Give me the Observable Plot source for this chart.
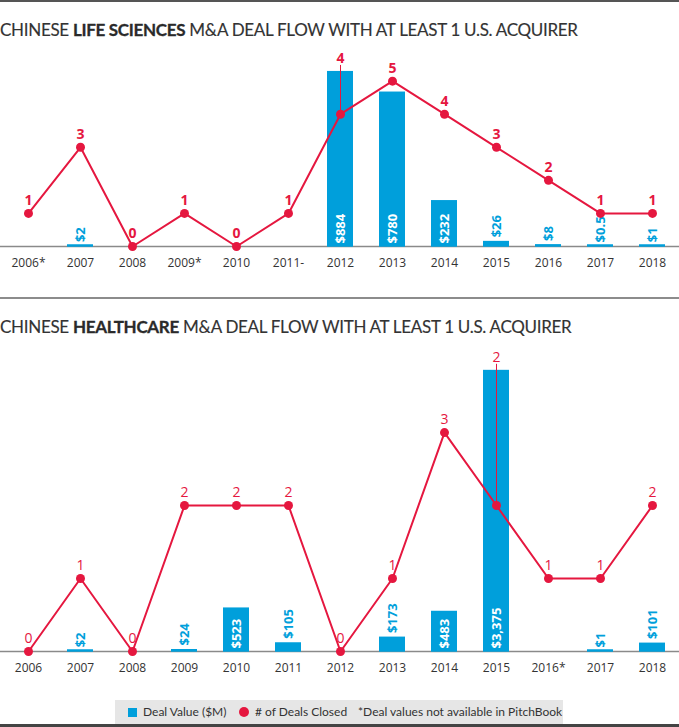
<!DOCTYPE html>
<html><head><meta charset="utf-8">
<script src="https://cdn.jsdelivr.net/npm/d3@7"></script>
<script src="https://cdn.jsdelivr.net/npm/@observablehq/plot@0.6"></script>
<style>
body{margin:0;background:#fff;}
#page{position:relative;width:679px;height:727px;overflow:hidden;font-family:Lato,"Open Sans",sans-serif;color:#333;}
.hr{position:absolute;left:0;width:679px;}
.title{position:absolute;left:0;font-size:17px;letter-spacing:-0.3px;white-space:nowrap;line-height:20px;color:#333;font-weight:400;-webkit-text-stroke:0.15px #333;}
.title b{font-weight:700;color:#2a2a2a;-webkit-text-stroke:0.3px #2a2a2a;}
.chart{position:absolute;left:0;}
#legend{position:absolute;left:115px;top:700px;width:448px;height:24px;background:#e6e6e6;font-size:12px;color:#333;}
#legend span{position:absolute;}
#legend .lt{top:4px;line-height:16px;white-space:nowrap;}
</style></head>
<body>
<div id="page">
  <div class="hr" style="top:0;height:2px;background:#555"></div>
  <div class="title" style="top:20px">CHINESE <b>LIFE SCIENCES</b> M&amp;A DEAL FLOW WITH AT LEAST 1 U.S. ACQUIRER</div>
  <div class="chart" id="c1" style="top:45px"></div>
  <div class="hr" style="top:297px;height:2px;background:#8c8c8c"></div>
  <div class="title" style="top:317px">CHINESE <b>HEALTHCARE</b> M&amp;A DEAL FLOW WITH AT LEAST 1 U.S. ACQUIRER</div>
  <div class="chart" id="c2" style="top:340px"></div>
  <div id="legend"></div>
  <div class="hr" style="top:724px;height:3px;background:#444"></div>
</div>
<script>
// ---- Life sciences chart data ----
const lsYears  = ["2006*","2007","2008","2009*","2010","2011-","2012","2013","2014","2015","2016","2017","2018"];
const lsCounts = [1, 3, 0, 1, 0, 1, 4, 5, 4, 3, 2, 1, 1];
const lsValues = [null, 2, null, null, null, null, 884, 780, 232, 26, 8, 0.5, 1];

// ---- Healthcare chart data ----
const hcYears  = ["2006","2007","2008","2009","2010","2011","2012","2013","2014","2015","2016*","2017","2018"];
const hcCounts = [0, 1, 0, 2, 2, 2, 0, 1, 3, 2, 1, 1, 2];
const hcValues = [null, 2, null, 24, 523, 105, null, 173, 483, 3375, null, 1, 101];

// ---- Legend ----
const legendLabels = ["Deal Value ($M)", "# of Deals Closed", "*Deal values not available in PitchBook"];

const BLUE = "#009fdb", RED = "#e5173f";
const fmt = d3.format("$,");

function drawChart({years, counts, values, height, maxValue, countUnit, boldCounts}) {
  const marginBottom = 39;
  const inner = height - marginBottom;
  const pxPer = inner / maxValue;
  const data = years.map((year, i) => ({year, count: counts[i], value: values[i]}));
  const bars = data.filter(d => d.value != null);
  const inside = d => d.value * pxPer >= 38;
  const covered = d => d.value != null && d.value > d.count * countUnit;
  const cy = d => d.count * countUnit;
  return Plot.plot({
    width: 679, height, marginLeft: 0, marginRight: 0, marginTop: 0, marginBottom,
    style: {fontFamily: "'Open Sans', sans-serif", fontSize: "12px", color: "#333", background: "transparent", overflow: "visible"},
    x: {domain: years, paddingInner: 0.5, paddingOuter: 0.25, label: null, tickSize: 0, tickPadding: 12},
    y: {domain: [0, maxValue], axis: null},
    marks: [
      Plot.ruleY([0], {stroke: "#8a8a8a", strokeWidth: 1.5}),
      Plot.barY(bars, {x: "year", y: "value", fill: BLUE}),
      Plot.tickY(bars, {x: "year", y: 0, stroke: BLUE, strokeWidth: 2.5, dy: -1}),
      Plot.text(bars.filter(inside), {x: "year", y: 0, text: d => fmt(d.value), rotate: -90, textAnchor: "start", dy: -3, fill: "white", fontWeight: "bold", fontSize: 13}),
      Plot.text(bars.filter(d => !inside(d)), {x: "year", y: "value", text: d => fmt(d.value), rotate: -90, textAnchor: "start", dy: -4, fill: BLUE, fontWeight: "bold", fontSize: 13}),
      Plot.ruleX(data.filter(covered), {x: "year", y1: "value", y2: cy, stroke: RED, strokeWidth: 1, insetTop: -6}),
      Plot.line(data, {x: "year", y: cy, stroke: RED, strokeWidth: 2}),
      Plot.dot(data, {x: "year", y: cy, r: 4.5, fill: RED}),
      Plot.text(data, {x: "year", y: d => covered(d) ? d.value : cy(d), text: d => String(d.count), dy: -13, fill: RED, fontWeight: boldCounts ? "bold" : "normal", fontSize: 14})
    ]
  });
}

document.getElementById("c1").appendChild(drawChart({
  years: lsYears, counts: lsCounts, values: lsValues,
  height: 240, maxValue: 1015, countUnit: 167, boldCounts: true
}));
document.getElementById("c2").appendChild(drawChart({
  years: hcYears, counts: hcCounts, values: hcValues,
  height: 350, maxValue: 3733, countUnit: 876, boldCounts: false
}));

// legend
const lg = document.getElementById("legend");
const sw1 = document.createElement("span");
Object.assign(sw1.style, {left: "13px", top: "8px", width: "9px", height: "9px", background: BLUE});
lg.appendChild(sw1);
const sw2 = document.createElement("span");
Object.assign(sw2.style, {left: "124px", top: "7px", width: "10px", height: "10px", background: RED, borderRadius: "50%"});
lg.appendChild(sw2);
[28, 140, 243].forEach((left, i) => {
  const s = document.createElement("span");
  s.className = "lt";
  s.style.left = left + "px";
  s.textContent = legendLabels[i];
  lg.appendChild(s);
});
</script>
</body></html>
